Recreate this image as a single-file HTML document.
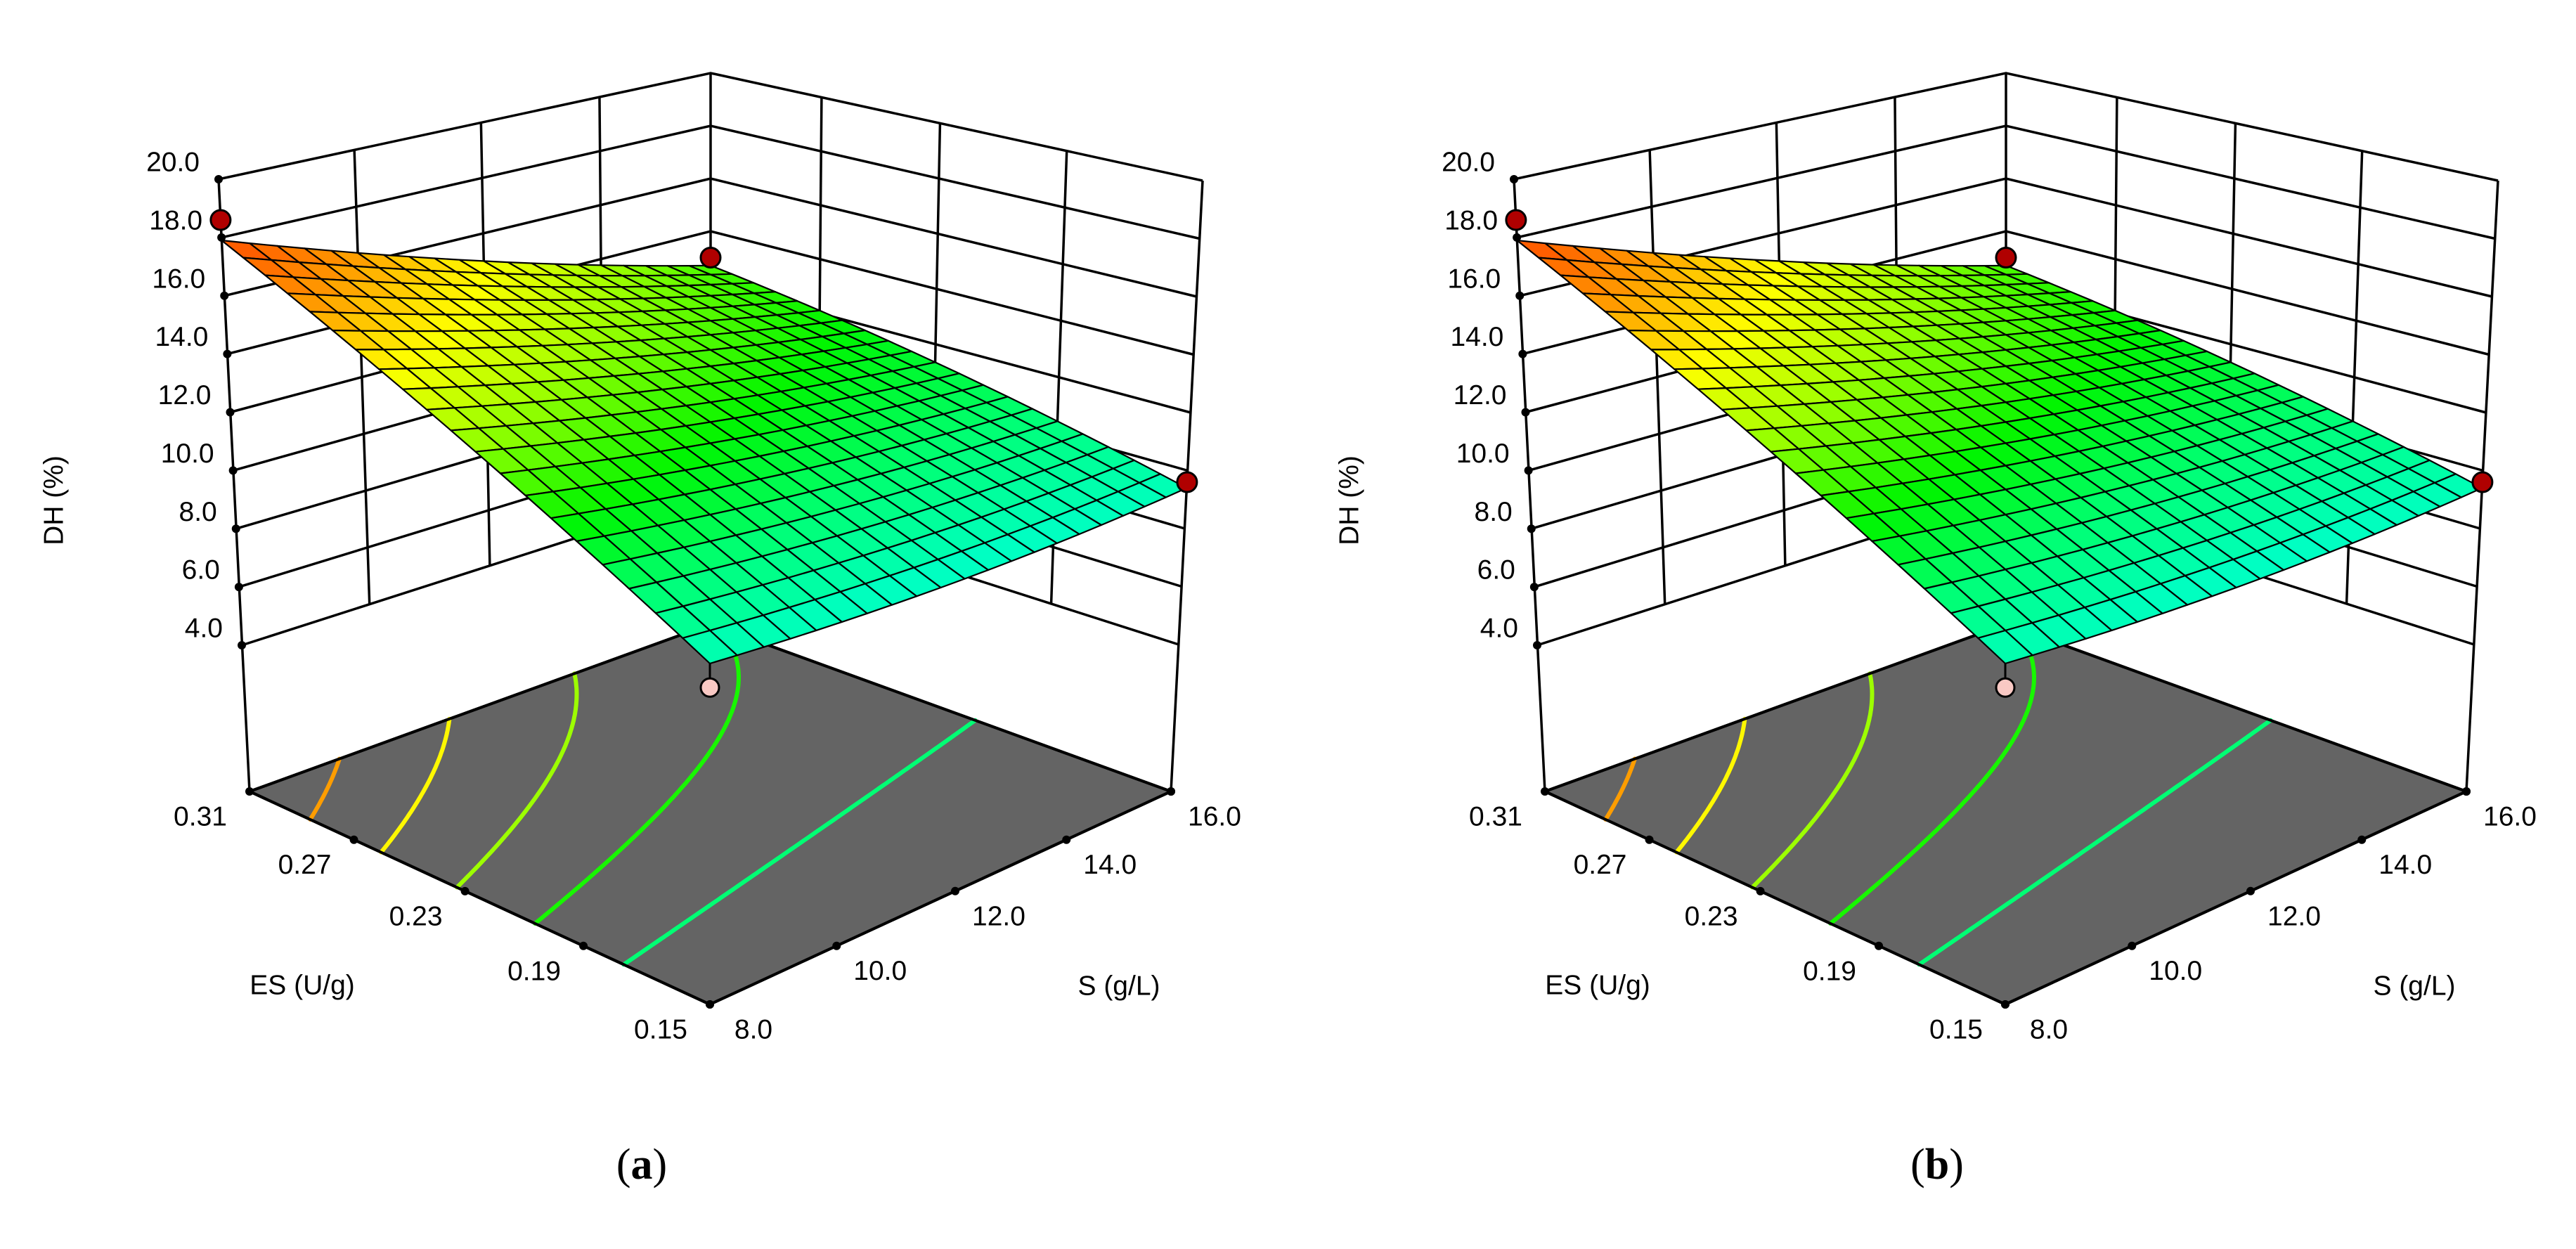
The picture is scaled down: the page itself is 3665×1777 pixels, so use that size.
<!DOCTYPE html>
<html><head><meta charset="utf-8"><title>DH response surfaces</title>
<style>
html,body{margin:0;padding:0;background:#fff;}
svg{display:block;}
text{font-family:"Liberation Sans","DejaVu Sans",sans-serif;fill:#000;}
.cap{font-family:"Liberation Serif",serif;}
</style></head>
<body>
<svg id="fig" width="3665" height="1777" viewBox="0 0 3665 1777" xmlns="http://www.w3.org/2000/svg"></svg>
<script>
// ---- data ----
const sTicks = [8, 10, 12, 14, 16];
const esTicks = [0.15, 0.19, 0.23, 0.27, 0.31];
const zTicks = [4, 6, 8, 10, 12, 14, 16, 18, 20];
// coded quadratic model: [b0, bS, bES, bS*ES, bS^2, bES^2]
const coefA = [12.35, -1.3, 2.95, -1.3, 0.3, -0.3];
const coefB = [12.35, -1.3, 2.95, -1.3, 0.3, -0.3];
const levelsA = [16.8, 15.5, 14.1, 12.65, 11.0];
const levelsB = [16.8, 15.5, 14.1, 12.65, 11.0];
const ptS = [8, 16, 16, 8];
const ptES = [0.31, 0.31, 0.15, 0.15];
const ptDH_A = [18.6, 13.0, 9.6, 8.65];
const ptDH_B = [18.6, 13.0, 9.6, 8.65];

const NS = "http://www.w3.org/2000/svg";
const svg = document.getElementById('fig');
function mk(tag, attrs, parent){const e=document.createElementNS(NS,tag);for(const k in attrs)e.setAttribute(k,attrs[k]);(parent||svg).appendChild(e);return e;}

function homog(F,R,B,L){
  const x0=F[0],y0=F[1],x1=R[0],y1=R[1],x2=B[0],y2=B[1],x3=L[0],y3=L[1];
  const dx1=x1-x2,dx2=x3-x2,dx3=x0-x1+x2-x3,dy1=y1-y2,dy2=y3-y2,dy3=y0-y1+y2-y3;
  const den=dx1*dy2-dy1*dx2;
  const g=(dx3*dy2-dy3*dx2)/den,h=(dx1*dy3-dy1*dx3)/den;
  const a=x1-x0+g*x1,b=x3-x0+h*x3,c=x0,d=y1-y0+g*y1,e=y3-y0+h*y3,f=y0;
  return (u,v)=>{const w=g*u+h*v+1;return [(a*u+b*v+c)/w,(d*u+e*v+f)/w];};
}
const Hf = homog([1010,1429],[1666,1126],[1011,888],[355,1126]);
const H4 = homog([1010,1191],[1677,917],[1011,704],[344,918]);
const H20= homog([1010,459],[1711,257],[1011,104],[311,255]);

const stops=[[8.0,[0,220,255]],[9.0,[0,255,210]],[10.7,[0,255,110]],[12.0,[0,245,0]],[13.6,[150,255,0]],[15.0,[255,255,0]],[16.5,[255,150,0]],[18.2,[255,60,0]]];
function cmap(z){
  if(z<=stops[0][0])return 'rgb('+stops[0][1]+')';
  for(let i=1;i<stops.length;i++){if(z<=stops[i][0]){const t=(z-stops[i-1][0])/(stops[i][0]-stops[i-1][0]);const a=stops[i-1][1],b=stops[i][1];return 'rgb('+a.map((q,k)=>Math.round(q+(b[k]-q)*t)).join(',')+')';}}
  return 'rgb('+stops[stops.length-1][1]+')';
}

function panel(dx, coef, levels, ptDH, letter){
  const g = mk('g',{transform:'translate('+dx+',0)'});
  
  
  const uOf=s=>(s-8)/8, vOf=e=>(e-0.15)/0.16;
  const model=(u,v)=>{const x1=2*u-1,x2=2*v-1;return coef[0]+coef[1]*x1+coef[2]*x2+coef[3]*x1*x2+coef[4]*x1*x1+coef[5]*x2*x2;};
  const P=(u,v,z)=>{const a=H4(u,v),b=H20(u,v),t=(z-4)/16;return [a[0]+(b[0]-a[0])*t,a[1]+(b[1]-a[1])*t];};
  const pts=a=>a.map(p=>p[0].toFixed(1)+','+p[1].toFixed(1)).join(' ');
  const walls=mk('g',{stroke:'#000','stroke-width':3.5,fill:'none'},g);
  
  
  zTicks.forEach(z=>{
    mk('polyline',{points:pts([P(0,1,z),P(1,1,z),P(1,0,z)])},walls);
  });
  [0.25,0.5,0.75].forEach(t=>{
    mk('line',{x1:P(t,1,4)[0],y1:P(t,1,4)[1],x2:P(t,1,20)[0],y2:P(t,1,20)[1]},walls);
    mk('line',{x1:P(1,t,4)[0],y1:P(1,t,4)[1],x2:P(1,t,20)[0],y2:P(1,t,20)[1]},walls);
  });
  [[0,1],[1,1],[1,0]].forEach(c=>{const a=P(c[0],c[1],20),b=Hf(c[0],c[1]);mk('line',{x1:a[0],y1:a[1],x2:b[0],y2:b[1]},walls);});
  const floor=mk('polygon',{points:pts([Hf(0,0),Hf(1,0),Hf(1,1),Hf(0,1)]),fill:'#646464',stroke:'#000','stroke-width':4,'stroke-linejoin':'round'},g);
  
  
  const N=90;
  levels.forEach((lv,li)=>{
    let d='';
    for(let i=0;i<N;i++)for(let j=0;j<N;j++){
      const u0=i/N,u1=(i+1)/N,v0=j/N,v1=(j+1)/N;
      const c=[[u0,v0,model(u0,v0)],[u1,v0,model(u1,v0)],[u1,v1,model(u1,v1)],[u0,v1,model(u0,v1)]];
      const cr=[];
      for(let k=0;k<4;k++){const a=c[k],b=c[(k+1)%4];if((a[2]-lv)*(b[2]-lv)<0){const t=(lv-a[2])/(b[2]-a[2]);cr.push([a[0]+(b[0]-a[0])*t,a[1]+(b[1]-a[1])*t]);}}
      if(cr.length>=2){const p=Hf(cr[0][0],cr[0][1]),q=Hf(cr[1][0],cr[1][1]);d+='M'+p[0].toFixed(1)+' '+p[1].toFixed(1)+'L'+q[0].toFixed(1)+' '+q[1].toFixed(1);}
    }
    const cl=mk('path',{d:d,stroke:cmap(lv-0.4),'stroke-width':6,fill:'none','stroke-linecap':'round'},g);
    
    
  });
  mk('polygon',{points:pts([Hf(0,0),Hf(1,0),Hf(1,1),Hf(0,1)]),fill:'none',stroke:'#000','stroke-width':4},g);
  const dots=mk('g',{fill:'#000'},g);
  
  
  esTicks.forEach(e=>{const p=Hf(0,vOf(e));mk('circle',{cx:p[0],cy:p[1],r:6},dots);});
  sTicks.forEach(s=>{const p=Hf(uOf(s),0);mk('circle',{cx:p[0],cy:p[1],r:6},dots);});
  const rp=Hf(1,0);mk('circle',{cx:rp[0],cy:rp[1],r:6},dots);
  zTicks.forEach(z=>{const p=P(0,1,z);mk('circle',{cx:p[0],cy:p[1],r:6},dots);});
  const below=[],above=[];
  ptS.forEach((s,i)=>{const u=uOf(s),v=vOf(ptES[i]);(ptDH[i]<model(u,v)?below:above).push([u,v,ptDH[i]]);});
  below.forEach(b=>{const s=P(b[0],b[1],model(b[0],b[1])),p=P(b[0],b[1],b[2]);
    mk('line',{x1:s[0],y1:s[1],x2:p[0],y2:p[1],stroke:'#000','stroke-width':3},g);
    const c=mk('circle',{cx:p[0],cy:p[1],r:13,fill:'#f9c9c4',stroke:'#000','stroke-width':3},g);
    
    });
  const M=20,cells=[];
  for(let i=0;i<M;i++)for(let j=0;j<M;j++)cells.push([i,j]);
  cells.sort((a,b)=>(b[0]+b[1])-(a[0]+a[1]));
  const surf=mk('g',{stroke:'#000','stroke-width':2.2,'stroke-linejoin':'round'},g);
  
  
  cells.forEach(([i,j])=>{
    const u0=i/M,u1=(i+1)/M,v0=j/M,v1=(j+1)/M;
    const q=[[u0,v0],[u1,v0],[u1,v1],[u0,v1]].map(p=>P(p[0],p[1],model(p[0],p[1])));
    mk('polygon',{points:pts(q),fill:cmap(model((u0+u1)/2,(v0+v1)/2))},surf);
  });
  above.forEach(b=>{const s=P(b[0],b[1],model(b[0],b[1])),p=P(b[0],b[1],b[2]);
    mk('line',{x1:s[0],y1:s[1],x2:p[0],y2:p[1],stroke:'#000','stroke-width':3},g);
    const c=mk('circle',{cx:p[0],cy:p[1],r:14,fill:'#b00000',stroke:'#000','stroke-width':3},g);
    
    });
  const txt=(x,y,s,anchor,extra)=>{const t=mk('text',Object.assign({x:x,y:y,'font-size':39,'text-anchor':anchor||'middle','dominant-baseline':'central'},extra||{}),g);t.textContent=s;return t;};
  zTicks.forEach(z=>{const p=P(0,1,z);const t=txt(p[0]-27,p[1]-24,z.toFixed(1),'end');
    
    });
  esTicks.forEach(e=>{const p=Hf(0,vOf(e));const t=txt(p[0]-70,p[1]+36,e.toFixed(2));
    
    });
  sTicks.forEach(s=>{const p=Hf(uOf(s),0);const t=txt(p[0]+62,p[1]+36,s.toFixed(1));
    
    });
  let t=txt(430,1402,'ES (U/g)');
  
  
  t=txt(1592,1403,'S (g/L)');
  
  
  t=txt(0,0,'DH (%)','middle',{transform:'translate(77,712) rotate(-90)'});
  
  
  const cap=mk('text',{x:913,y:1657,'font-size':62,'text-anchor':'middle','dominant-baseline':'central','class':'cap'},g);
  
  
  const t1=mk('tspan',{},cap);t1.textContent='(';
  const t2=mk('tspan',{'font-weight':'bold'},cap);t2.textContent=letter;
  const t3=mk('tspan',{},cap);t3.textContent=')';
}
panel(0, coefA, levelsA, ptDH_A, 'a');
panel(1843, coefB, levelsB, ptDH_B, 'b');
</script>
</body></html>
